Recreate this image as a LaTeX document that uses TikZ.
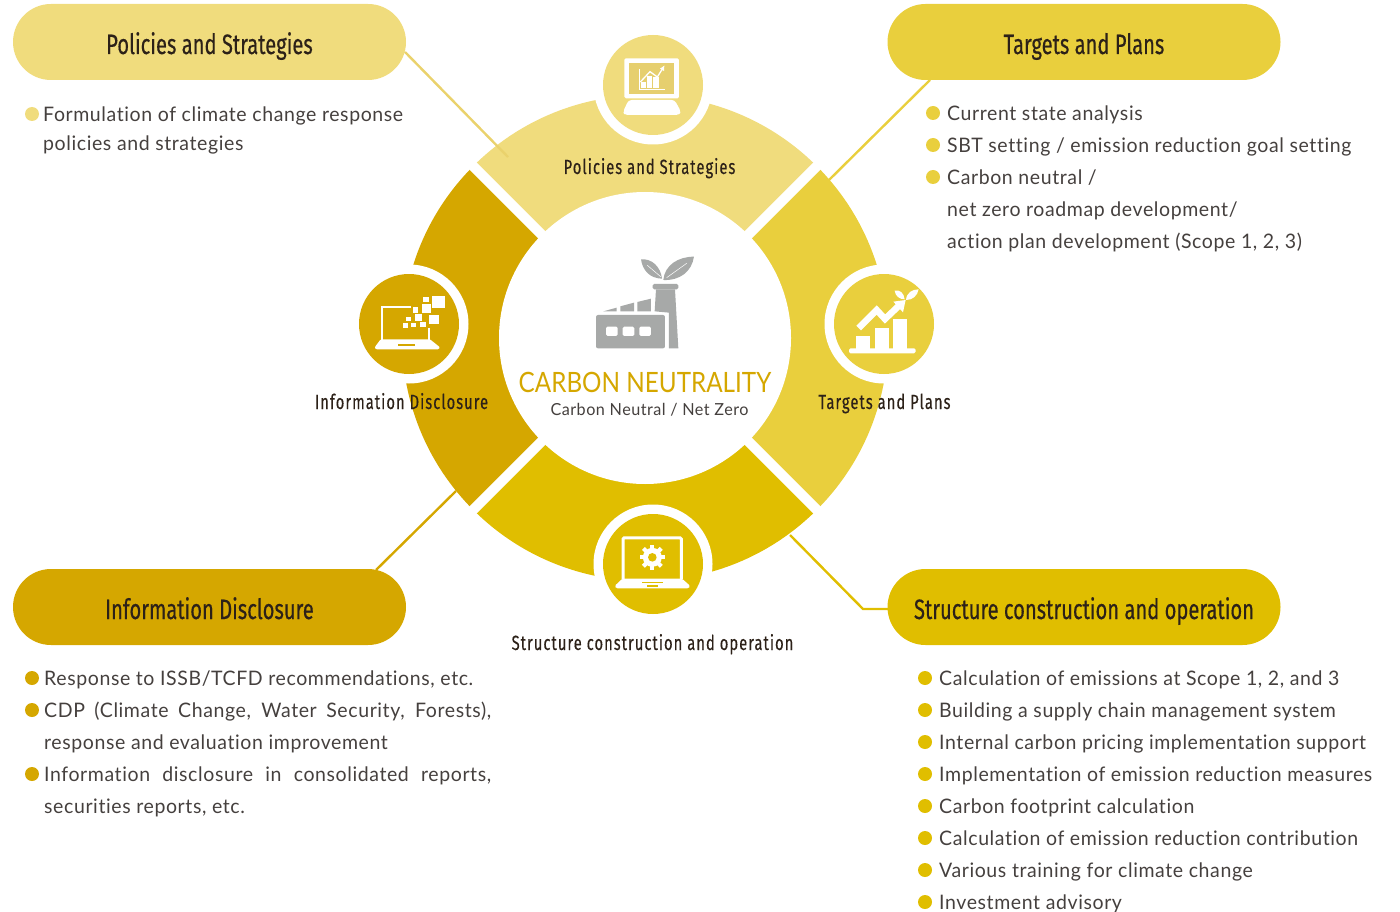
\documentclass[tikz,border=0pt]{standalone}
\usepackage{fontspec}
\setmainfont{Lato}
\newfontfamily\bodyf[LetterSpace=3,FakeStretch=0.975,Ligatures=NoCommon]{Lato}
\newfontfamily\headf[FakeStretch=0.72,FakeBold=0.4]{Fira Sans}
\newfontfamily\labf[FakeStretch=0.72,LetterSpace=5,FakeBold=0.3]{Fira Sans}
\newfontfamily\titlef[FakeStretch=0.866]{Lato}
\definecolor{cA}{HTML}{F0DC7D}
\definecolor{cAd}{HTML}{EAD26C}
\definecolor{cAs}{HTML}{E6CF6E}
\definecolor{cB}{HTML}{E9CF3D}
\definecolor{cC}{HTML}{E0BE00}
\definecolor{cD}{HTML}{D5A700}
\definecolor{ink}{HTML}{45403E}
\definecolor{gr}{HTML}{A7A9A8}
\definecolor{hd}{HTML}{2C2118}
\tikzset{
  x=1pt,y=-1pt,
  pill/.style={rounded corners=38pt,minimum width=393pt,minimum height=76pt,inner sep=0pt,text height=26pt,text depth=2pt,font=\headf\fontsize{28}{30}\selectfont,text=hd},
  sec/.style={font=\labf\fontsize{20.5}{22}\selectfont,text=hd,inner sep=0pt,text height=16pt,text depth=2pt},
  item/.style={anchor=base west,inner sep=0pt,font=\bodyf\fontsize{20}{24}\selectfont,text=ink},
  bl/.style={circle,inner sep=0pt,minimum size=14pt},
  disc/.style={circle,inner sep=0pt,minimum size=100pt},
  halo/.style={circle,fill=white,inner sep=0pt,minimum size=119pt},
  gap/.style={white,line width=10pt},
  conn/.style={line width=2.4pt},
}
\newcommand{\js}[1]{\makebox[447pt][s]{#1}}
\begin{document}
\begin{tikzpicture}
\useasboundingbox (0,0) rectangle (1400,912);
% ring
\coordinate (c) at (645,338);
\fill[cA] (c) -- ++(171.8,-171.8) arc[start angle=45,end angle=135,radius=243pt] -- cycle;
\fill[cB] (c) -- ++(171.8,171.8) arc[start angle=-45,end angle=45,radius=243pt] -- cycle;
\fill[cC] (c) -- ++(-171.8,171.8) arc[start angle=225,end angle=315,radius=243pt] -- cycle;
\fill[cD] (c) -- ++(-171.8,-171.8) arc[start angle=135,end angle=225,radius=243pt] -- cycle;
\draw[gap] (445,138) -- (845,538);
\draw[gap] (445,538) -- (845,138);
\node[circle,fill=white,inner sep=0pt,minimum size=292pt] (core) at (c) {};
% pills
\node[pill,fill=cA] (p1) at (209.5,42) {Policies and Strategies};
\node[pill,fill=cB] (p2) at (1084,42) {Targets and Plans};
\node[pill,fill=cD] (p3) at (209.5,607) {Information Disclosure};
\node[pill,fill=cC] (p4) at (1084,607) {Structure construction and operation};
% connectors
\coordinate (e1) at (508,157);
\coordinate (e2) at (829,180);
\coordinate (e3) at (456,491);
\coordinate (e4) at (790,535);
\coordinate (k4) at (863,609);
\coordinate (s1) at (405,52);
\coordinate (s2) at (930,80);
\coordinate (s3) at (376,570);
\coordinate (s4) at (888,609);
\draw[conn,cAd] (s1) -- (e1);
\draw[conn,cB] (s2) -- (e2);
\draw[conn,cD] (s3) -- (e3);
\draw[conn,cC] (s4) -- (k4) -- (e4);
% icon discs
\node[halo] (h1) at (653,85) {};
\node[halo] (h2) at (884,324) {};
\node[halo] (h3) at (653,564) {};
\node[halo] (h4) at (409,324) {};
\node[disc,fill=cA] (d1) at (653,85) {};
\node[disc,fill=cB] (d2) at (884,324) {};
\node[disc,fill=cC] (d3) at (653,564) {};
\node[disc,fill=cD] (d4) at (409,324) {};
% icon 1: desktop
\begin{scope}[shift={(580,20)},x=0.3333pt,y=-0.3333pt]
\fill[white,rounded corners=1.5pt] (133,115) rectangle (297,235);
\fill[cAs] (148,128) rectangle (282,222);
\fill[white,rounded corners=3pt] (146,240) -- (284,240) -- (303,275) -- (297,285) -- (134,285) -- (129,275) -- cycle;
\draw[white,line width=0.9pt] (177,148) -- (177,207) -- (255,207);
\fill[white] (183,185) rectangle (197,204);
\fill[white] (200,168) rectangle (216,204);
\fill[white] (220,172) rectangle (236,204);
\draw[white,line width=1.3pt] (181,186) -- (210,155) -- (232,171) -- (249,144);
\fill[white] (253,137) -- (240,146) -- (252,153) -- cycle;
\end{scope}
% icon 2: growth
\begin{scope}[shift={(810,250)},x=0.3333pt,y=-0.3333pt]
\fill[white,rounded corners=1.5pt] (117,295) rectangle (317,310);
\fill[white] (138,257) rectangle (181,296);
\fill[white] (194,235) rectangle (237,296);
\fill[white] (248,207) rectangle (291,296);
\draw[white,line width=6.5pt] (146,234) -- (200,180) -- (225,207) -- (268,166);
\fill[white] (250,155) -- (287,150) -- (279,187) -- cycle;
\fill[white] (254,122) .. controls (268,118) and (282,128) .. (284,148) .. controls (268,148) and (256,138) .. cycle;
\fill[white] (288,150) .. controls (290,128) and (306,118) .. (326,118) .. controls (322,138) and (308,150) .. cycle;
\end{scope}
% icon 3: laptop with gear
\begin{scope}[shift={(580,500)},x=0.3333pt,y=-0.3333pt]
\draw[white,line width=3pt,rounded corners=1pt] (129,238) -- (129,114) -- (304,114) -- (304,238);
\fill[white,rounded corners=1.5pt] (127,236) -- (306,236) -- (331,258) -- (326,265) -- (108,265) -- (104,258) -- cycle;
\fill[cC] (185,246) rectangle (250,250);
\fill[cC] (200,256) rectangle (235,260);
\foreach \a in {0,45,...,315} \draw[white,line width=4.2pt] (217,172) -- ++(\a:38);
\fill[white] (217,172) circle[radius=9.5pt];
\fill[cC] (217,172) circle[radius=4.3pt];
\end{scope}
% icon 4: laptop with pixels
\begin{scope}[shift={(340,250)},x=0.3333pt,y=-0.3333pt]
\draw[white,line width=2.2pt] (214,171) -- (125,171) -- (125,270);
\draw[white,line width=2.2pt] (268,234) -- (268,270);
\fill[white,rounded corners=1pt] (122,268) -- (270,268) -- (300,292) -- (296,298) -- (108,298) -- (104,292) -- cycle;
\fill[cD] (175,283) rectangle (225,289);
\foreach \xa/\ya/\xb/\yb in {276/137/315/175,250/140/268/157,247/163/273/188,220/172/235/188,268/195/296/222,225/193/245/212,198/200/213/214,240/215/258/232,212/218/228/232,190/220/205/235}
  \fill[white] (\xa,\ya) rectangle (\xb,\yb);
\end{scope}
% centre factory
\begin{scope}[shift={(570,240)},x=0.3333pt,y=-0.3333pt]
\fill[gr,rounded corners=2pt] (78,225) rectangle (285,325);
\foreach \u in {108,158,208} \fill[white,rounded corners=1.5pt] (\u,260) rectangle ++(35,28);
\fill[gr] (100,214) -- (140,203) -- (140,214) -- cycle;
\fill[gr] (151,214) -- (151,199) -- (192,188) -- (192,214) -- cycle;
\fill[gr] (202,214) -- (202,186) -- (243,176) -- (243,214) -- cycle;
\fill[gr] (258,148) -- (315,148) -- (325,325) -- (297,325) -- (297,218) -- (254,214) -- cycle;
\fill[gr,rounded corners=1.5pt] (248,132) rectangle (325,148);
\fill[gr] (213,58) .. controls (245,55) and (272,80) .. (276,116) .. controls (240,115) and (218,92) .. cycle;
\fill[gr] (280,120) .. controls (284,75) and (325,50) .. (372,50) .. controls (365,95) and (330,122) .. cycle;
\draw[white,line width=0.5pt] (232,76) -- (272,110);
\draw[white,line width=0.5pt] (290,113) -- (350,70);
\end{scope}
% centre text
\node[inner sep=0pt,text=cD,font=\titlef\fontsize{28}{30}\selectfont] (t1) at (645,382) {CARBON NEUTRALITY};
\node[inner sep=0pt,text=ink,font=\bodyf\fontsize{16.6}{20}\selectfont] (t2) at (649.5,410) {Carbon Neutral / Net Zero};
% ring labels
\node[sec] (l1) at (649.5,167) {Policies and Strategies};
\node[sec] (l2) at (884.5,402) {Targets and Plans};
\node[sec] (l3) at (652.5,643) {Structure construction and operation};
\node[sec] (l4) at (401.5,402) {Information Disclosure};
% lists
\node[bl,fill=cA] (b11) at (32,114) {};
\node[item] (a11) at (43,122) {Formulation of climate change response};
\node[item] (a12) at (43,150.5) {policies and strategies};

\node[bl,fill=cB] (b21) at (933,113) {};
\node[bl,fill=cB] (b22) at (933,145) {};
\node[bl,fill=cB] (b23) at (933,177) {};
\node[item] (a21) at (947,120.5) {Current state analysis};
\node[item] (a22) at (947,152.5) {SBT setting / emission reduction goal setting};
\node[item] (a23) at (947,184.5) {Carbon neutral /};
\node[item] (a24) at (947,216.5) {net zero roadmap development/};
\node[item] (a25) at (947,248.5) {action plan development (Scope 1, 2, 3)};

\node[bl,fill=cD] (b31) at (32,678) {};
\node[bl,fill=cD] (b32) at (32,710) {};
\node[bl,fill=cD] (b33) at (32,774) {};
\node[item] (a31) at (44,685) {Response to ISSB/TCFD recommendations, etc.};
\node[item] (a32) at (44,717) {\js{CDP (Climate Change, Water Security, Forests),}};
\node[item] (a33) at (44,749) {response and evaluation improvement};
\node[item] (a34) at (44,781) {\js{Information disclosure in consolidated reports,}};
\node[item] (a35) at (44,813) {securities reports, etc.};

\node[bl,fill=cC] (b41) at (925,678) {};
\node[bl,fill=cC] (b42) at (925,710) {};
\node[bl,fill=cC] (b43) at (925,742) {};
\node[bl,fill=cC] (b44) at (925,774) {};
\node[bl,fill=cC] (b45) at (925,806) {};
\node[bl,fill=cC] (b46) at (925,838) {};
\node[bl,fill=cC] (b47) at (925,870) {};
\node[bl,fill=cC] (b48) at (925,902) {};
\node[item] (a41) at (939,685) {Calculation of emissions at Scope 1, 2, and 3};
\node[item] (a42) at (939,717) {Building a supply chain management system};
\node[item] (a43) at (939,749) {Internal carbon pricing implementation support};
\node[item] (a44) at (939,781) {Implementation of emission reduction measures};
\node[item] (a45) at (939,813) {Carbon footprint calculation};
\node[item] (a46) at (939,845) {Calculation of emission reduction contribution};
\node[item] (a47) at (939,877) {Various training for climate change};
\node[item] (a48) at (939,909) {Investment advisory};
\end{tikzpicture}
\end{document}
